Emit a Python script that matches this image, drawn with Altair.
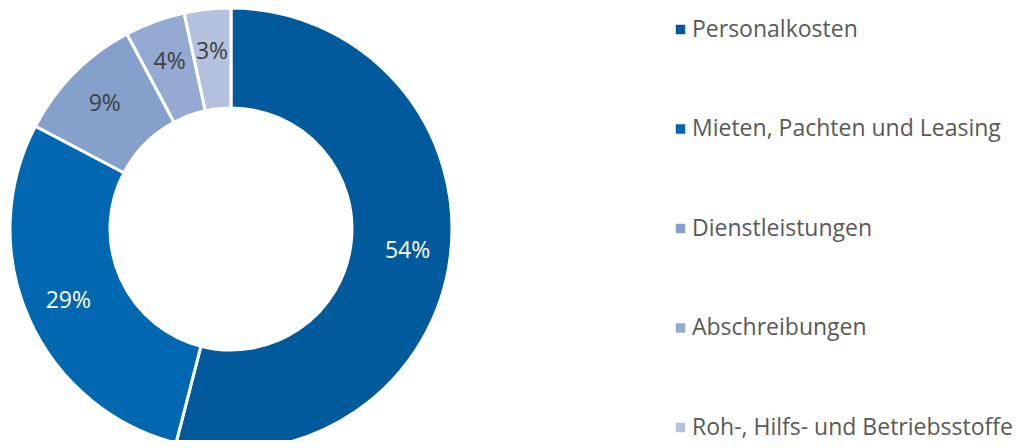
import altair as alt
import pandas as pd

categories = ["Personalkosten", "Mieten, Pachten und Leasing", "Dienstleistungen",
              "Abschreibungen", "Roh-, Hilfs- und Betriebsstoffe"]
shares = [54.0, 28.7, 9.5, 4.4, 3.4]
labels = ["54%", "29%", "9%", "4%", "3%"]
colors = ["#005A9C", "#0067B0", "#84A0CB", "#94AAD3", "#B4C2E0"]
label_colors = ["#FFFFFF", "#FFFFFF", "#404040", "#404040", "#404040"]

df = pd.DataFrame({
    "cat": categories,
    "share": shares,
    "label": labels,
    "order": list(range(len(categories))),
    "lc": label_colors,
})

FONT = "Open Sans"
cx, cy = 223, 221

base = alt.Chart(df).encode(
    theta=alt.Theta("share:Q", stack=True),
    order=alt.Order("order:Q"),
    x=alt.value(cx),
    y=alt.value(cy),
)

arcs = base.mark_arc(outerRadius=221, innerRadius=121, stroke="white", strokeWidth=3).encode(
    color=alt.Color(
        "cat:N",
        scale=alt.Scale(domain=categories, range=colors),
        sort=categories,
        legend=alt.Legend(
            title=None,
            orient="none",
            legendX=661,
            legendY=10,
            padding=0,
            symbolType="square",
            symbolSize=90,
            symbolStrokeWidth=0,
            labelFont=FONT,
            labelFontSize=23,
            labelColor="#595959",
            labelOffset=0,
            labelLimit=400,
            rowPadding=75.5,
        ),
    )
)

text = base.mark_text(radius=178, font=FONT, fontSize=23).encode(
    text="label:N",
    color=alt.Color("lc:N", scale=None),
)

chart = alt.layer(arcs, text).properties(
    width=1009, height=432, padding=0, autosize=alt.AutoSizeParams(type="none")
).configure_view(stroke=None)

chart.save("out.html", embed_options={"renderer": "svg", "actions": False})
